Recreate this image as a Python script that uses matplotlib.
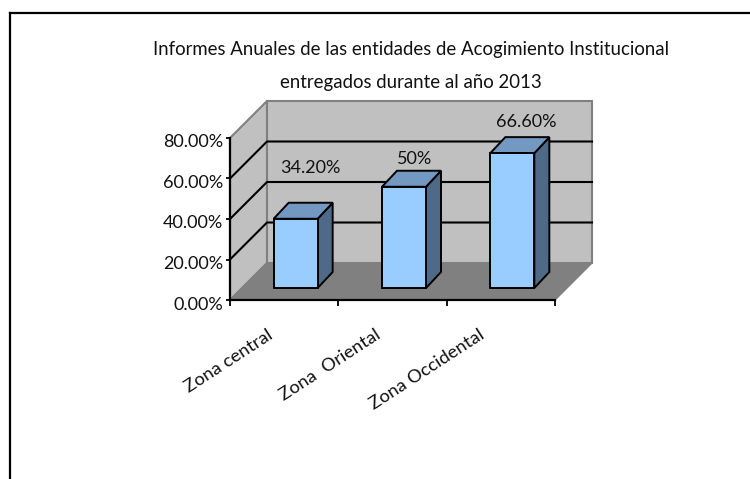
import matplotlib
matplotlib.use('Agg')
import matplotlib.pyplot as plt
from matplotlib.lines import Line2D
from matplotlib.patches import Polygon
from matplotlib.transforms import ScaledTranslation

plt.rcParams['font.family'] = ['Lato', 'DejaVu Sans']

categorias = ['Zona central', 'Zona  Oriental', 'Zona Occidental']
valores = [34.2, 50, 66.6]
etiquetas = ['34.20%', '50%', '66.60%']
y_ticks = [0, 20, 40, 60, 80]
y_labels = ['0.00%', '20.00%', '40.00%', '60.00%', '80.00%']
titulo = 'Informes Anuales de las entidades de Acogimiento Institucional\nentregados durante al año 2013'

W, H = 750, 479
fig = plt.figure(figsize=(W / 100, H / 100), dpi=100)
ax = fig.add_axes([230 / W, 1 - 300 / H, 325 / W, 162 / H])
ax.set_xlim(0, 3)
ax.set_ylim(0, 80)
ax.patch.set_visible(False)

# px per data unit
px_x = 325 / 3
px_y = 162 / 80

# caja 3d
dx = 37 / px_x
dy = 37 / px_y
ax.add_patch(Polygon([(0, 0), (dx, dy), (dx, 80 + dy), (0, 80)], fc='#c0c0c0', ec='#808080', lw=1.5, clip_on=False, zorder=1))
ax.add_patch(Polygon([(dx, dy), (3 + dx, dy), (3 + dx, 80 + dy), (dx, 80 + dy)], fc='#c0c0c0', ec='#808080', lw=1.5, clip_on=False, zorder=1))
ax.add_patch(Polygon([(0, 0), (3, 0), (3 + dx, dy), (dx, dy)], fc='#808080', ec='#808080', lw=1, clip_on=False, zorder=2))
for t in y_ticks[1:-1]:
    ax.plot([0, dx, 3 + dx], [t, t + dy, t + dy], color='black', lw=1.5, clip_on=False, zorder=3)

# barras
off_x = 11.5 / px_x
off_y = 12 / px_y
ancho = 44 / px_x
prof_x = 15 / px_x
prof_y = 16 / px_y
for i, v in enumerate(valores):
    x0 = i + 0.5 + off_x - ancho / 2
    x1 = x0 + ancho
    y0 = off_y
    y1 = off_y + v
    ax.add_patch(Polygon([(x1, y0), (x1 + prof_x, y0 + prof_y), (x1 + prof_x, y1 + prof_y), (x1, y1)], fc='#4f6a88', ec='black', lw=1.4, clip_on=False, zorder=4))
    ax.add_patch(Polygon([(x0, y1), (x1, y1), (x1 + prof_x, y1 + prof_y), (x0 + prof_x, y1 + prof_y)], fc='#7399c3', ec='black', lw=1.4, clip_on=False, zorder=4))
    ax.add_patch(Polygon([(x0, y0), (x1, y0), (x1, y1), (x0, y1)], fc='#99ccff', ec='black', lw=1.4, clip_on=False, zorder=5))

# etiquetas de datos, movidas a mano como en el original
offs = [(26, 51), (22.5, 28), (25, 31)]
for i, v in enumerate(valores):
    ax.annotate(etiquetas[i], xy=(i + 0.5, v + off_y), xytext=(offs[i][0] * 0.72, offs[i][1] * 0.72),
                textcoords='offset points', ha='center', va='center', fontsize=13, color='#111111', zorder=6)

for s in ['top', 'right']:
    ax.spines[s].set_visible(False)
for s in ['left', 'bottom']:
    ax.spines[s].set_linewidth(1.6)
    ax.spines[s].set_zorder(6)

ax.set_yticks(y_ticks)
ax.set_yticklabels(y_labels, fontsize=13, color='#111111')
ax.tick_params(axis='y', length=3, width=1.3, pad=2)
for lab in ax.get_yticklabels():
    lab.set_transform(lab.get_transform() + ScaledTranslation(0, -3 / 100, fig.dpi_scale_trans))
ax.set_xticks([0, 1, 2, 3])
ax.set_xticklabels([])
ax.tick_params(axis='x', length=4, width=1.3)
ax.set_xticks([0.5, 1.5, 2.5], minor=True)
ax.set_xticklabels(categorias, minor=True, rotation=33, ha='right', rotation_mode='anchor', fontsize=13.2, color='#111111')
ax.tick_params(axis='x', which='minor', length=0, pad=19)
shifts = [-17, -18, -22]
for lab, s in zip(ax.get_xticklabels(minor=True), shifts):
    lab.set_transform(lab.get_transform() + ScaledTranslation(s / 100, 0, fig.dpi_scale_trans))

fig.text(411 / W, 1 - 66 / H, titulo, ha='center', va='center', fontsize=13.4, linespacing=2.2, color='#111111')

# marco
fig.add_artist(Line2D([10 / W, 1], [1 - 13 / H, 1 - 13 / H], color='black', lw=1.6))
fig.add_artist(Line2D([10 / W, 10 / W], [0, 1 - 13 / H], color='black', lw=1.6))

plt.savefig('out.png', dpi=100)
